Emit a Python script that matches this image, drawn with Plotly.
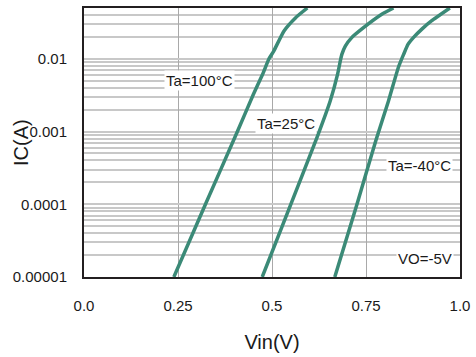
import math
import plotly.graph_objects as go

# Data (Vin in V, IC in A)
vin_100 = [0.239, 0.323, 0.408, 0.450, 0.476, 0.492, 0.505, 0.532, 0.563, 0.594]
ic_100 = [1e-5, 1e-4, 1e-3, 3.2e-3, 6.3e-3, 0.0100, 0.0129, 0.0242, 0.0368, 0.05]

vin_25 = [0.474, 0.550, 0.620, 0.655, 0.674, 0.682, 0.686, 0.695, 0.712, 0.740, 0.792, 0.823]
ic_25 = [1e-5, 1e-4, 8.4e-4, 2.66e-3, 6.0e-3, 0.0095, 0.0116, 0.0150, 0.0196, 0.0260, 0.041, 0.05]

vin_m40 = [0.667, 0.726, 0.776, 0.810, 0.836, 0.850, 0.862, 0.876, 0.900, 0.924, 0.973]
ic_m40 = [1e-5, 1e-4, 7.5e-4, 2.66e-3, 7.6e-3, 0.0115, 0.0159, 0.0196, 0.0260, 0.0332, 0.05]

series = [("Ta=100°C", vin_100, ic_100), ("Ta=25°C", vin_25, ic_25), ("Ta=-40°C", vin_m40, ic_m40)]

x_ticks = [0.0, 0.25, 0.5, 0.75, 1.0]
x_tick_labels = ["0.0", "0.25", "0.5", "0.75", "1.0"]
y_ticks = [1e-5, 1e-4, 1e-3, 1e-2]
y_tick_labels = ["0.00001", "0.0001", "0.001", "0.01"]
y_range = [1e-5, 0.05]

labels = [
    ("Ta=100°C", 0.307, 0.005),
    ("Ta=25°C", 0.538, 0.00129),
    ("Ta=-40°C", 0.892, 3.42e-4),
    ("VO=-5V", 0.907, 1.82e-5),
]

FONT = "Liberation Sans, Arial, Helvetica, sans-serif"
CURVE = "#3b8a77"
FRAME = "#231f20"

fig = go.Figure()
for name, xs, ys in series:
    fig.add_trace(go.Scatter(
        x=xs, y=ys, mode="lines", name=name,
        line=dict(color=CURVE, width=3.5, shape="spline", smoothing=0.5),
        showlegend=False, hoverinfo="skip",
    ))

for text, xv, yv in labels:
    fig.add_annotation(
        x=xv, y=math.log10(yv), xref="x", yref="y", text=text, showarrow=False,
        font=dict(family=FONT, size=15, color="#1a1a1a"),
        bgcolor="white", borderpad=1,
    )

fig.add_annotation(
    x=-0.169, y=0.5, xref="paper", yref="paper", text="IC(A)",
    textangle=-90, showarrow=False, xanchor="center", yanchor="middle",
    font=dict(family=FONT, size=20, color="#1a1a1a"),
)

fig.update_layout(
    width=476, height=357,
    margin=dict(l=84, r=14, t=6, b=80),
    paper_bgcolor="white", plot_bgcolor="white",
    font=dict(family=FONT, size=15, color="#1a1a1a"),
    xaxis=dict(
        range=[0, 1], tickvals=x_ticks, ticktext=x_tick_labels,
        showgrid=True, gridcolor="#a9a9a9", gridwidth=1.3,
        showline=True, linecolor=FRAME, linewidth=2, mirror=True,
        ticks="", ticklabelstandoff=14, zeroline=False,
        title=dict(text="Vin(V)", font=dict(family=FONT, size=20, color="#1a1a1a"), standoff=22),
    ),
    yaxis=dict(
        type="log", range=[math.log10(y_range[0]), math.log10(y_range[1])],
        tickvals=y_ticks, ticktext=y_tick_labels,
        showgrid=True, gridcolor="#c8c8c8", gridwidth=1.5,
        minor=dict(showgrid=True, gridcolor="#c8c8c8", gridwidth=1.5, dtick="D1"),
        showline=True, linecolor=FRAME, linewidth=2, mirror=True,
        ticks="", ticklabelstandoff=12, zeroline=False,
    ),
)

fig.write_html("out.html", config={"displayModeBar": False},
               post_script="document.body.style.margin='0';")
